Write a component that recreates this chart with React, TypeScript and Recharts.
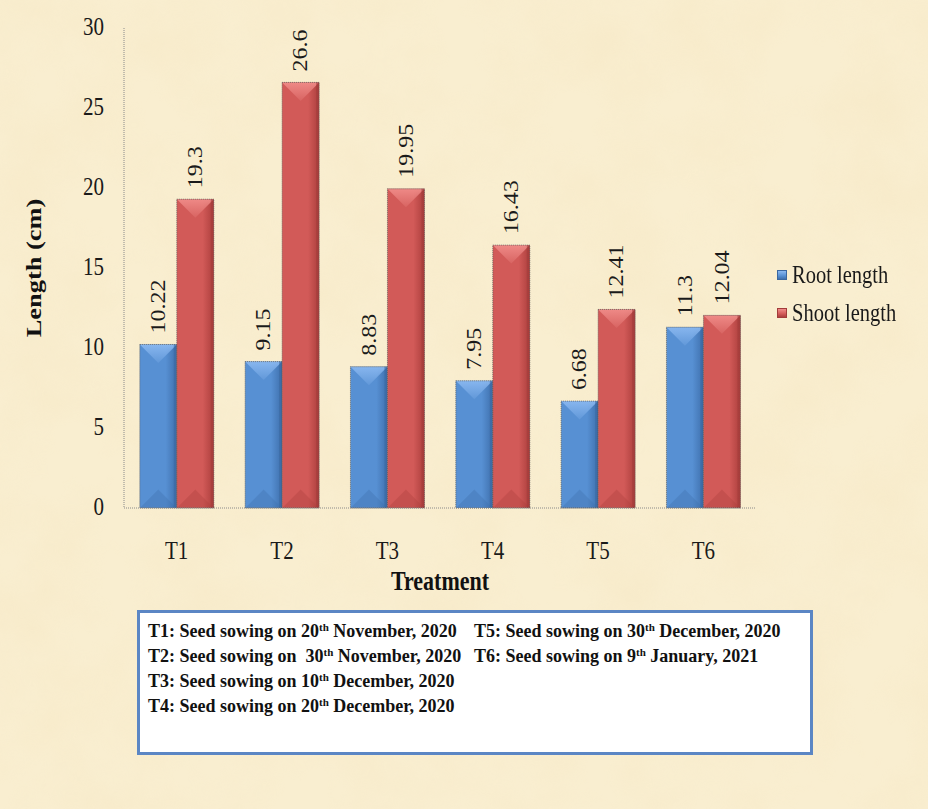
import React from "react";
import { BarChart, Bar, XAxis, YAxis, Legend, LabelList } from "recharts";

const categories = ["T1", "T2", "T3", "T4", "T5", "T6"];
const rootLength = [10.22, 9.15, 8.83, 7.95, 6.68, 11.3];
const shootLength = [19.3, 26.6, 19.95, 16.43, 12.41, 12.04];
const yTicks = [0, 5, 10, 15, 20, 25, 30];

const notesLeft = [
	{ head: "T1: Seed sowing on 20", sup: "th", tail: " November, 2020" },
	{ head: "T2: Seed sowing on  30", sup: "th", tail: " November, 2020" },
	{ head: "T3: Seed sowing on 10", sup: "th", tail: " December, 2020" },
	{ head: "T4: Seed sowing on 20", sup: "th", tail: " December, 2020" },
];
const notesRight = [
	{ head: "T5: Seed sowing on 30", sup: "th", tail: " December, 2020" },
	{ head: "T6: Seed sowing on 9", sup: "th", tail: " January, 2021" },
];

const data = categories.map((name, i) => ({
	name,
	root: rootLength[i],
	shoot: shootLength[i],
}));

const FONT = "'Liberation Serif', 'Times New Roman', serif";
const STRETCH = 1.2;

const palettes: Record<string, { base: string; light: string; dark: string; edge: string }> = {
	root: { base: "#5790d3", light: "#8ab8f0", dark: "#3f70ad", edge: "#3a67a0" },
	shoot: { base: "#d25a58", light: "#f08c89", dark: "#ac3f3d", edge: "#a23c3a" },
};

const makeShape = (key: string) => (props: any) => {
	const { x, y, width: w, height: h } = props;
	if (!h || h <= 0) return <g />;
	const p = palettes[key];
	const b = Math.min(w / 2, h / 2);
	return (
		<g>
			<rect x={x} y={y} width={w} height={h} fill={`url(#face-${key})`} />
			<polygon
				points={`${x},${y} ${x + w},${y} ${x + w / 2},${y + b}`}
				fill={`url(#top-${key})`}
			/>
			<polygon
				points={`${x},${y + h} ${x + w},${y + h} ${x + w / 2},${y + h - b}`}
				fill={p.dark}
				opacity={0.35}
			/>
			<rect x={x + w - 3} y={y} width={3} height={h} fill={p.edge} opacity={0.6} />
			<rect
				x={x}
				y={y}
				width={w}
				height={h}
				fill="none"
				stroke="#5a5a5a"
				strokeWidth={0.8}
				strokeDasharray="1 1"
			/>
		</g>
	);
};

const ValueLabel = (props: any) => {
	const { x, y, width, value } = props;
	const cx = x + width / 2;
	return (
		<g transform={`translate(${cx},${y - 11}) scale(1,${STRETCH}) rotate(-90)`}>
			<text
				x={0}
				y={0}
				textAnchor="start"
				dominantBaseline="central"
				fontFamily={FONT}
				style={{ fontFamily: FONT }}
				fontSize={20}
				fill="#1a1a1a">
				{String(value)}
			</text>
		</g>
	);
};

const YTick = (props: any) => {
	const { x, y, payload } = props;
	return (
		<g transform={`translate(${x},${y + 7}) scale(1,${STRETCH})`}>
			<text x={0} y={0} textAnchor="end" fontFamily={FONT} style={{ fontFamily: FONT }} fontSize={21} fill="#1a1a1a">
				{payload.value}
			</text>
		</g>
	);
};

const XTick = (props: any) => {
	const { x, y, payload } = props;
	return (
		<g transform={`translate(${x},${y + 51}) scale(1,${STRETCH})`}>
			<text x={0} y={0} textAnchor="middle" fontFamily={FONT} style={{ fontFamily: FONT }} fontSize={21} fill="#1a1a1a">
				{payload.value}
			</text>
		</g>
	);
};

const XTitle = (props: any) => {
	const vb = props.viewBox || {};
	const cx = vb.x + vb.width / 2;
	return (
		<g transform={`translate(${cx},${vb.y + 82}) scale(1,${STRETCH})`}>
			<text x={0} y={0} textAnchor="middle" fontFamily={FONT} fontWeight="bold" fontSize={22} fill="#111">
				Treatment
			</text>
		</g>
	);
};

const YTitle = (props: any) => {
	const vb = props.viewBox || {};
	const cy = vb.y + vb.height / 2;
	return (
		<g transform={`translate(${vb.x + 33},${cy}) scale(1,${STRETCH}) rotate(-90)`}>
			<text
				x={0}
				y={0}
				textAnchor="middle"
				dominantBaseline="central"
				fontFamily={FONT}
				fontWeight="bold"
				fontSize={22}
				fill="#111">
				Length (cm)
			</text>
		</g>
	);
};

const renderLegend = (props: any) => {
	const items = props.payload || [];
	return (
		<div style={{ fontFamily: FONT, fontSize: 20.5, color: "#1a1a1a" }}>
			{items.map((it: any) => {
				const p = palettes[it.dataKey] || palettes.root;
				return (
					<div key={it.value} style={{ height: 38, display: "flex", alignItems: "center" }}>
						<span
							style={{
								display: "inline-block",
								width: 10,
								height: 10,
								marginRight: 5,
								background: `linear-gradient(180deg, ${p.light}, ${p.base} 60%, ${p.dark})`,
								border: `1px solid ${p.edge}`,
								boxSizing: "border-box",
							}}
						/>
						<span style={{ display: "inline-block", transform: `scaleY(${STRETCH})` }}>{it.value}</span>
					</div>
				);
			})}
		</div>
	);
};

const NoteLine = ({ n }: { n: { head: string; sup: string; tail: string } }) => (
	<div style={{ height: 25, whiteSpace: "pre" }}>
		{n.head}
		<sup style={{ fontSize: 11, verticalAlign: "6px", lineHeight: 0 }}>{n.sup}</sup>
		{n.tail}
	</div>
);

export default function App() {
	return (
		<div style={{ position: "absolute", left: 0, top: 0, width: 928, height: 809, overflow: "hidden" }}>
			<svg width={928} height={809} style={{ position: "absolute", left: 0, top: 0 }}>
				<defs>
					<filter id="paper" x="0" y="0" width="100%" height="100%">
						<feTurbulence type="fractalNoise" baseFrequency="0.012" numOctaves={4} seed={7} />
						<feColorMatrix
							type="matrix"
							values="0 0 0 0 0.92  0 0 0 0 0.80  0 0 0 0 0.55  1.4 0 0 0 -0.5"
						/>
					</filter>
				</defs>
				<rect width={928} height={809} fill="#f9eed0" />
				<rect width={928} height={809} filter="url(#paper)" opacity={0.6} />
			</svg>
			<div style={{ position: "absolute", left: 0, top: 0 }}>
				<BarChart
					width={928}
					height={600}
					data={data}
					margin={{ top: 28, right: 172, bottom: 0, left: 0 }}
					barCategoryGap="15%"
					barGap={0}>
					<defs>
						{Object.keys(palettes).map((k) => (
							<React.Fragment key={k}>
								<linearGradient id={`face-${k}`} x1="0" y1="0" x2="1" y2="0">
									<stop offset="0%" stopColor={palettes[k].base} />
									<stop offset="70%" stopColor={palettes[k].base} />
									<stop offset="100%" stopColor={palettes[k].dark} />
								</linearGradient>
								<linearGradient id={`top-${k}`} x1="0" y1="0" x2="0" y2="1">
									<stop offset="0%" stopColor={palettes[k].light} stopOpacity={0.95} />
									<stop offset="100%" stopColor={palettes[k].light} stopOpacity={0.2} />
								</linearGradient>
							</React.Fragment>
						))}
					</defs>
					<XAxis
						dataKey="name"
						height={92}
						tickLine={false}
						tickSize={0}
						tickMargin={0}
						axisLine={{ stroke: "#8a8a8a", strokeDasharray: "1 1" }}
						tick={<XTick />}
						label={<XTitle />}
					/>
					<YAxis
						width={124}
						domain={[0, 30]}
						ticks={yTicks}
						interval={0}
						tickLine={false}
						tickSize={0}
						tickMargin={20}
						axisLine={{ stroke: "#8a8a8a", strokeDasharray: "1 1" }}
						tick={<YTick />}
						label={<YTitle />}
					/>
					<Legend
						layout="vertical"
						align="center"
						verticalAlign="middle"
						content={renderLegend}
						wrapperStyle={{ left: 777, top: 256, width: 150 }}
					/>
					<Bar dataKey="root" name="Root length" fill={palettes.root.base} shape={makeShape("root")} isAnimationActive={false}>
						<LabelList dataKey="root" content={<ValueLabel />} />
					</Bar>
					<Bar dataKey="shoot" name="Shoot length" fill={palettes.shoot.base} shape={makeShape("shoot")} isAnimationActive={false}>
						<LabelList dataKey="shoot" content={<ValueLabel />} />
					</Bar>
				</BarChart>
			</div>
			<div
				style={{
					position: "absolute",
					left: 137,
					top: 610,
					width: 676,
					height: 145,
					boxSizing: "border-box",
					border: "3px solid #5b86c4",
					background: "#ffffff",
				}}
			/>
			<div
				style={{
					position: "absolute",
					left: 148,
					top: 619,
					fontFamily: FONT,
					fontWeight: "bold",
					fontSize: 18,
					lineHeight: "25px",
					color: "#111",
				}}>
				{notesLeft.map((n) => (
					<NoteLine key={n.head} n={n} />
				))}
			</div>
			<div
				style={{
					position: "absolute",
					left: 474,
					top: 619,
					fontFamily: FONT,
					fontWeight: "bold",
					fontSize: 18,
					lineHeight: "25px",
					color: "#111",
				}}>
				{notesRight.map((n) => (
					<NoteLine key={n.head} n={n} />
				))}
			</div>
		</div>
	);
}
